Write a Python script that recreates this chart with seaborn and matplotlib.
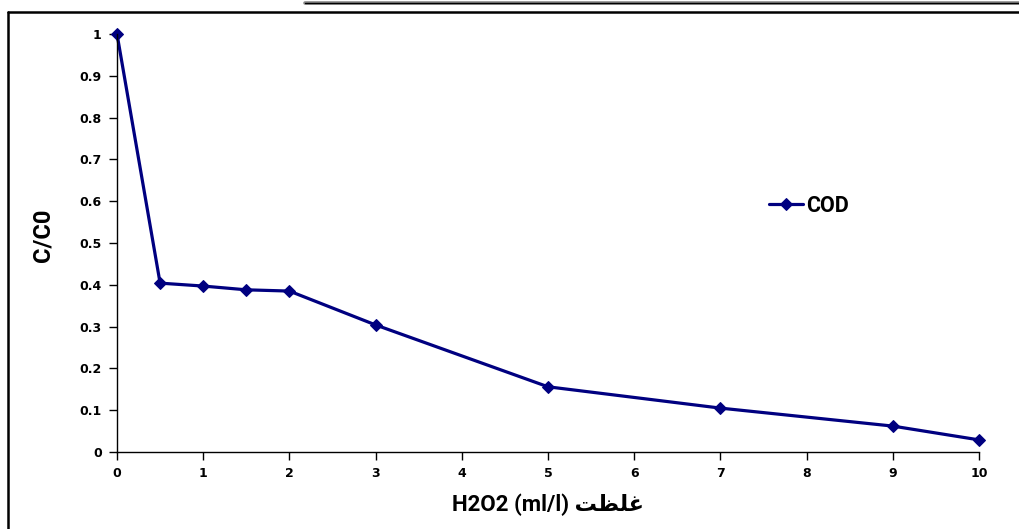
import matplotlib
matplotlib.use("Agg")
import matplotlib.pyplot as plt
import seaborn as sns
import pandas as pd
from matplotlib.lines import Line2D

# Data
h2o2 = [0, 0.5, 1, 1.5, 2, 3, 5, 7, 9, 10]
cod = [1.0, 0.404, 0.397, 0.388, 0.385, 0.304, 0.156, 0.105, 0.062, 0.029]
x_ticks = [0, 1, 2, 3, 4, 5, 6, 7, 8, 9, 10]
y_ticks = [0, 0.1, 0.2, 0.3, 0.4, 0.5, 0.6, 0.7, 0.8, 0.9, 1]
y_tick_labels = ["0", "0.1", "0.2", "0.3", "0.4", "0.5", "0.6", "0.7", "0.8", "0.9", "1"]
series_name = "COD"
# "غلظت" written in shaped presentation forms (visual order) so it renders joined
arabic_word = "\uFE96\uFEC8\uFEE0\uFECF"
x_label = "H2O2 (ml/l) " + arabic_word
y_label = "C/C0"

df = pd.DataFrame({"x": h2o2, "y": cod, "s": series_name})

sns.set_style("ticks")
plt.rcParams["font.family"] = ["Roboto", "DejaVu Sans"]
plt.rcParams["text.color"] = "black"
plt.rcParams["axes.labelcolor"] = "black"
plt.rcParams["xtick.color"] = "black"
plt.rcParams["ytick.color"] = "black"

W, H = 1020, 529
fig = plt.figure(figsize=(W / 100, H / 100), dpi=100)
ax = fig.add_axes([117 / W, 1 - 452 / H, (979 - 117) / W, (452 - 34) / H])

navy = "#000080"
sns.lineplot(data=df, x="x", y="y", hue="s", palette=[navy], marker="D",
             markersize=6, markeredgecolor=navy, linewidth=2.3, ax=ax,
             legend=True, clip_on=False)

ax.set_xlim(0, 10)
ax.set_ylim(0, 1)
ax.set_xticks(x_ticks)
ax.set_xticklabels([str(t) for t in x_ticks])
ax.set_yticks(y_ticks)
ax.set_yticklabels(y_tick_labels)
for s in ["top", "right"]:
    ax.spines[s].set_visible(False)
for s in ["left", "bottom"]:
    ax.spines[s].set_color("black")
    ax.spines[s].set_linewidth(1.0)
ax.tick_params(axis="both", direction="out", length=6, width=1.0, color="black",
               labelcolor="black", pad=5)
for lab in ax.get_xticklabels() + ax.get_yticklabels():
    lab.set_fontweight("bold")
    lab.set_family(["DejaVu Sans"])
    lab.set_fontsize(9)
    lab.set_color("black")

ax.set_xlabel(x_label, fontsize=16, fontweight="bold", family=["Roboto", "DejaVu Sans"], color="black")
ax.set_ylabel(y_label, fontsize=17, fontweight="bold", family=["Roboto", "DejaVu Sans"], color="black")
ax.xaxis.set_label_coords((548 - 117) / (979 - 117), -(505 - 452) / (452 - 34))
ax.yaxis.set_label_coords(-(117 - 43) / (979 - 117), (452 - 235) / (452 - 34))
ax.xaxis.label.set_verticalalignment("center")
ax.yaxis.label.set_verticalalignment("center")

leg = ax.legend(loc="center left", bbox_to_anchor=((758 - 117) / (979 - 117), (452 - 206) / (452 - 34)),
                frameon=False, handlelength=1.6, handletextpad=0.15, borderpad=0,
                prop={"weight": "bold", "size": 15.5, "family": ["Roboto", "DejaVu Sans"]})
for t in leg.get_texts():
    t.set_color("black")

# Frame lines around the figure
fig.add_artist(Line2D([8 / W, 8 / W], [0, 1 - 12 / H], transform=fig.transFigure,
                      color="black", linewidth=1.8))
fig.add_artist(Line2D([8 / W, 1], [1 - 12 / H, 1 - 12 / H], transform=fig.transFigure,
                      color="black", linewidth=1.8))
fig.add_artist(Line2D([305 / W, 1], [1 - 3 / H, 1 - 3 / H], transform=fig.transFigure,
                      color="#888888", linewidth=2.6))
fig.add_artist(Line2D([305 / W, 1], [1 - 3 / H, 1 - 3 / H], transform=fig.transFigure,
                      color="black", linewidth=1.0))

fig.savefig("out.png", dpi=100)
